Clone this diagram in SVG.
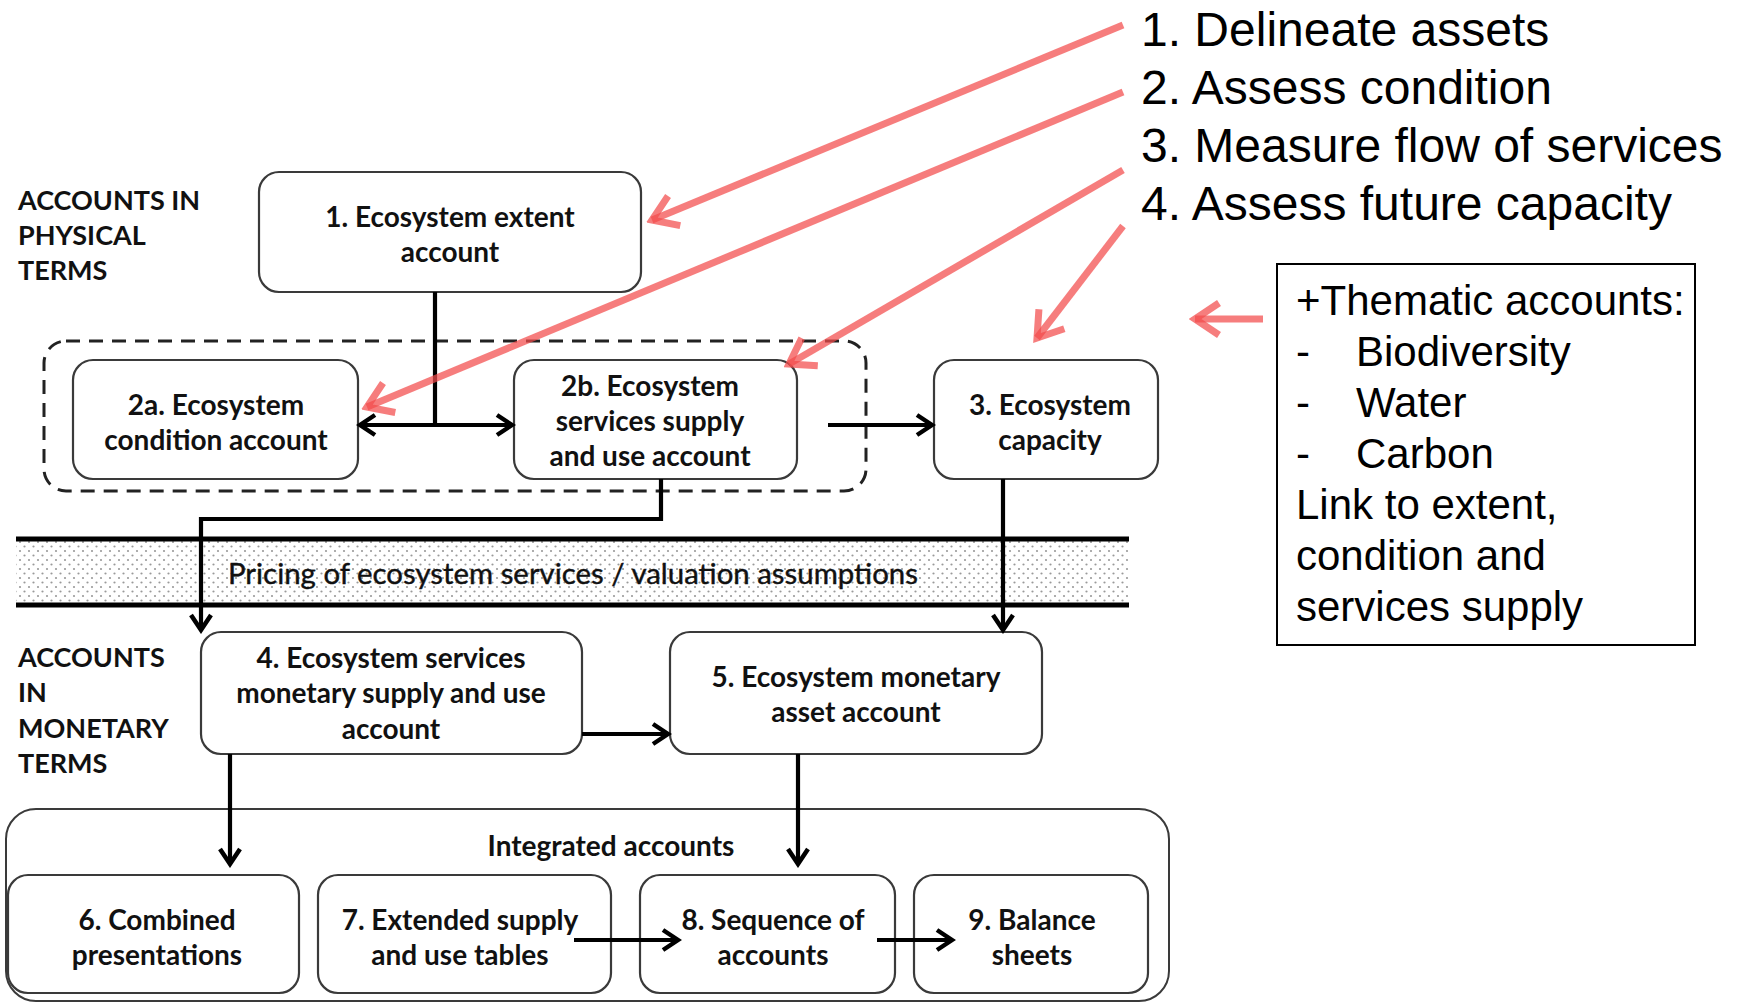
<svg xmlns="http://www.w3.org/2000/svg" width="1743" height="1003" viewBox="0 0 1743 1003">
<style>
.box{fill:#fff;stroke:#3a3a3a;stroke-width:2.2}
.bt{font-family:Lato,"Open Sans",sans-serif;font-weight:bold;font-size:28px;fill:#111;text-anchor:middle}
.lt{font-family:Lato,"Open Sans",sans-serif;font-weight:bold;font-size:27px;fill:#111}
.conn{fill:none;stroke:#000;stroke-width:4.2}
.red{fill:none;stroke:#f24b4b;stroke-opacity:0.72;stroke-width:7}
.big{font-family:"Liberation Sans",Arial,sans-serif;font-size:48px;fill:#000}
.th{font-family:"Liberation Sans",Arial,sans-serif;font-size:42px;fill:#000}
</style>
<defs>
<pattern id="dots" width="9" height="9" patternUnits="userSpaceOnUse">
<circle cx="2" cy="2" r="1.1" fill="#9a9a9a"/>
<circle cx="6.5" cy="6.5" r="1.1" fill="#9a9a9a"/>
</pattern>
<marker id="ah" markerUnits="userSpaceOnUse" markerWidth="26" markerHeight="26" viewBox="0 0 26 26" refX="22" refY="13" orient="auto-start-reverse">
<path d="M7,3 L22,13 L7,23" fill="none" stroke="#000" stroke-width="4.5"/>
</marker>
<marker id="rh" markerUnits="userSpaceOnUse" markerWidth="40" markerHeight="40" viewBox="0 0 40 40" refX="34" refY="20" orient="auto">
<path d="M10,4 L34,20 L10,36" fill="none" stroke="#f24b4b" stroke-opacity="0.72" stroke-width="7"/>
</marker>
</defs>
<rect width="1743" height="1003" fill="#fff"/>

<g id="labels">
<text class="lt" x="18" y="210">ACCOUNTS IN</text>
<text class="lt" x="18" y="245">PHYSICAL</text>
<text class="lt" x="18" y="280">TERMS</text>
<text class="lt" x="18" y="667">ACCOUNTS</text>
<text class="lt" x="18" y="702">IN</text>
<text class="lt" x="18" y="738">MONETARY</text>
<text class="lt" x="18" y="773">TERMS</text>
</g>

<g id="pricing-band">
<rect x="16" y="539" width="1113" height="66" fill="url(#dots)"/>
<line x1="16" y1="539" x2="1129" y2="539" stroke="#000" stroke-width="5"/>
<line x1="16" y1="605" x2="1129" y2="605" stroke="#000" stroke-width="5"/>
<text x="573" y="584" font-family="Lato,'Open Sans',sans-serif" font-size="28" fill="#111" stroke="#111" stroke-width="0.4" text-anchor="middle" textLength="690" lengthAdjust="spacingAndGlyphs">Pricing of ecosystem services / valuation assumptions</text>
</g>

<g id="group-2">
<rect x="44" y="341" width="822" height="150" rx="22" fill="none" stroke="#222" stroke-width="3" stroke-dasharray="14,9"/>
</g>

<g id="integrated">
<rect x="6" y="809" width="1163" height="192" rx="30" fill="none" stroke="#3a3a3a" stroke-width="2"/>
<text class="bt" x="611" y="856">Integrated accounts</text>
</g>

<g id="n1"><rect class="box" x="259" y="172" width="382" height="120" rx="20"/>
<text class="bt" x="450" y="227">1. Ecosystem extent</text><text class="bt" x="450" y="262">account</text></g>
<g id="n2a"><rect class="box" x="73" y="360" width="285" height="119" rx="20"/>
<text class="bt" x="216" y="415">2a. Ecosystem</text><text class="bt" x="216" y="450">condition account</text></g>
<g id="n2b"><rect class="box" x="514" y="360" width="283" height="119" rx="20"/>
<text class="bt" x="650" y="396">2b. Ecosystem</text><text class="bt" x="650" y="431">services supply</text><text class="bt" x="650" y="466">and use account</text></g>
<g id="n3"><rect class="box" x="934" y="360" width="224" height="119" rx="20"/>
<text class="bt" x="1050" y="415">3. Ecosystem</text><text class="bt" x="1050" y="450">capacity</text></g>
<g id="n4"><rect class="box" x="201" y="632" width="381" height="122" rx="20"/>
<text class="bt" x="391" y="668">4. Ecosystem services</text><text class="bt" x="391" y="703">monetary supply and use</text><text class="bt" x="391" y="739">account</text></g>
<g id="n5"><rect class="box" x="670" y="632" width="372" height="122" rx="20"/>
<text class="bt" x="856" y="687">5. Ecosystem monetary</text><text class="bt" x="856" y="722">asset account</text></g>
<g id="n6"><rect class="box" x="8" y="875" width="291" height="118" rx="20"/>
<text class="bt" x="157" y="930">6. Combined</text><text class="bt" x="157" y="965">presentations</text></g>
<g id="n7"><rect class="box" x="318" y="875" width="293" height="118" rx="20"/>
<text class="bt" x="460" y="930">7. Extended supply</text><text class="bt" x="460" y="965">and use tables</text></g>
<g id="n8"><rect class="box" x="640" y="875" width="255" height="118" rx="20"/>
<text class="bt" x="773" y="930">8. Sequence of</text><text class="bt" x="773" y="965">accounts</text></g>
<g id="n9"><rect class="box" x="914" y="875" width="234" height="118" rx="20"/>
<text class="bt" x="1032" y="930">9. Balance</text><text class="bt" x="1032" y="965">sheets</text></g>

<g id="steps">
<text class="big" x="1141" y="46">1. Delineate assets</text>
<text class="big" x="1141" y="104">2. Assess condition</text>
<text class="big" x="1141" y="162">3. Measure flow of services</text>
<text class="big" x="1141" y="220">4. Assess future capacity</text>
</g>

<g id="thematic">
<rect x="1277" y="264" width="418" height="381" fill="#fff" stroke="#000" stroke-width="2"/>
<text class="th" x="1296" y="315">+Thematic accounts:</text>
<text class="th" x="1296" y="366">-</text><text class="th" x="1356" y="366">Biodiversity</text>
<text class="th" x="1296" y="417">-</text><text class="th" x="1356" y="417">Water</text>
<text class="th" x="1296" y="468">-</text><text class="th" x="1356" y="468">Carbon</text>
<text class="th" x="1296" y="519">Link to extent,</text>
<text class="th" x="1296" y="570">condition and</text>
<text class="th" x="1296" y="621">services supply</text>
</g>

<g id="connectors">
<line class="conn" x1="435" y1="292" x2="435" y2="425"/>
<line class="conn" x1="360" y1="425" x2="512" y2="425" marker-start="url(#ah)" marker-end="url(#ah)"/>
<line class="conn" x1="828" y1="425" x2="932" y2="425" marker-end="url(#ah)"/>
<polyline class="conn" points="661,479 661,519 201,519 201,630" marker-end="url(#ah)"/>
<line class="conn" x1="1003" y1="479" x2="1003" y2="630" marker-end="url(#ah)"/>
<line class="conn" x1="582" y1="734" x2="668" y2="734" marker-end="url(#ah)"/>
<line class="conn" x1="230" y1="754" x2="230" y2="864" marker-end="url(#ah)"/>
<line class="conn" x1="798" y1="754" x2="798" y2="864" marker-end="url(#ah)"/>
<line class="conn" x1="574" y1="940" x2="678" y2="940" marker-end="url(#ah)"/>
<line class="conn" x1="877" y1="940" x2="952" y2="940" marker-end="url(#ah)"/>
<line class="red" x1="1123" y1="25" x2="652" y2="220" marker-end="url(#rh)"/>
<line class="red" x1="1123" y1="92" x2="367" y2="407" marker-end="url(#rh)"/>
<line class="red" x1="1123" y1="170" x2="789" y2="364" marker-end="url(#rh)"/>
<line class="red" x1="1123" y1="226" x2="1037" y2="338" marker-end="url(#rh)"/>
<line class="red" x1="1263" y1="319" x2="1195" y2="319" marker-end="url(#rh)"/>
</g>
</svg>
